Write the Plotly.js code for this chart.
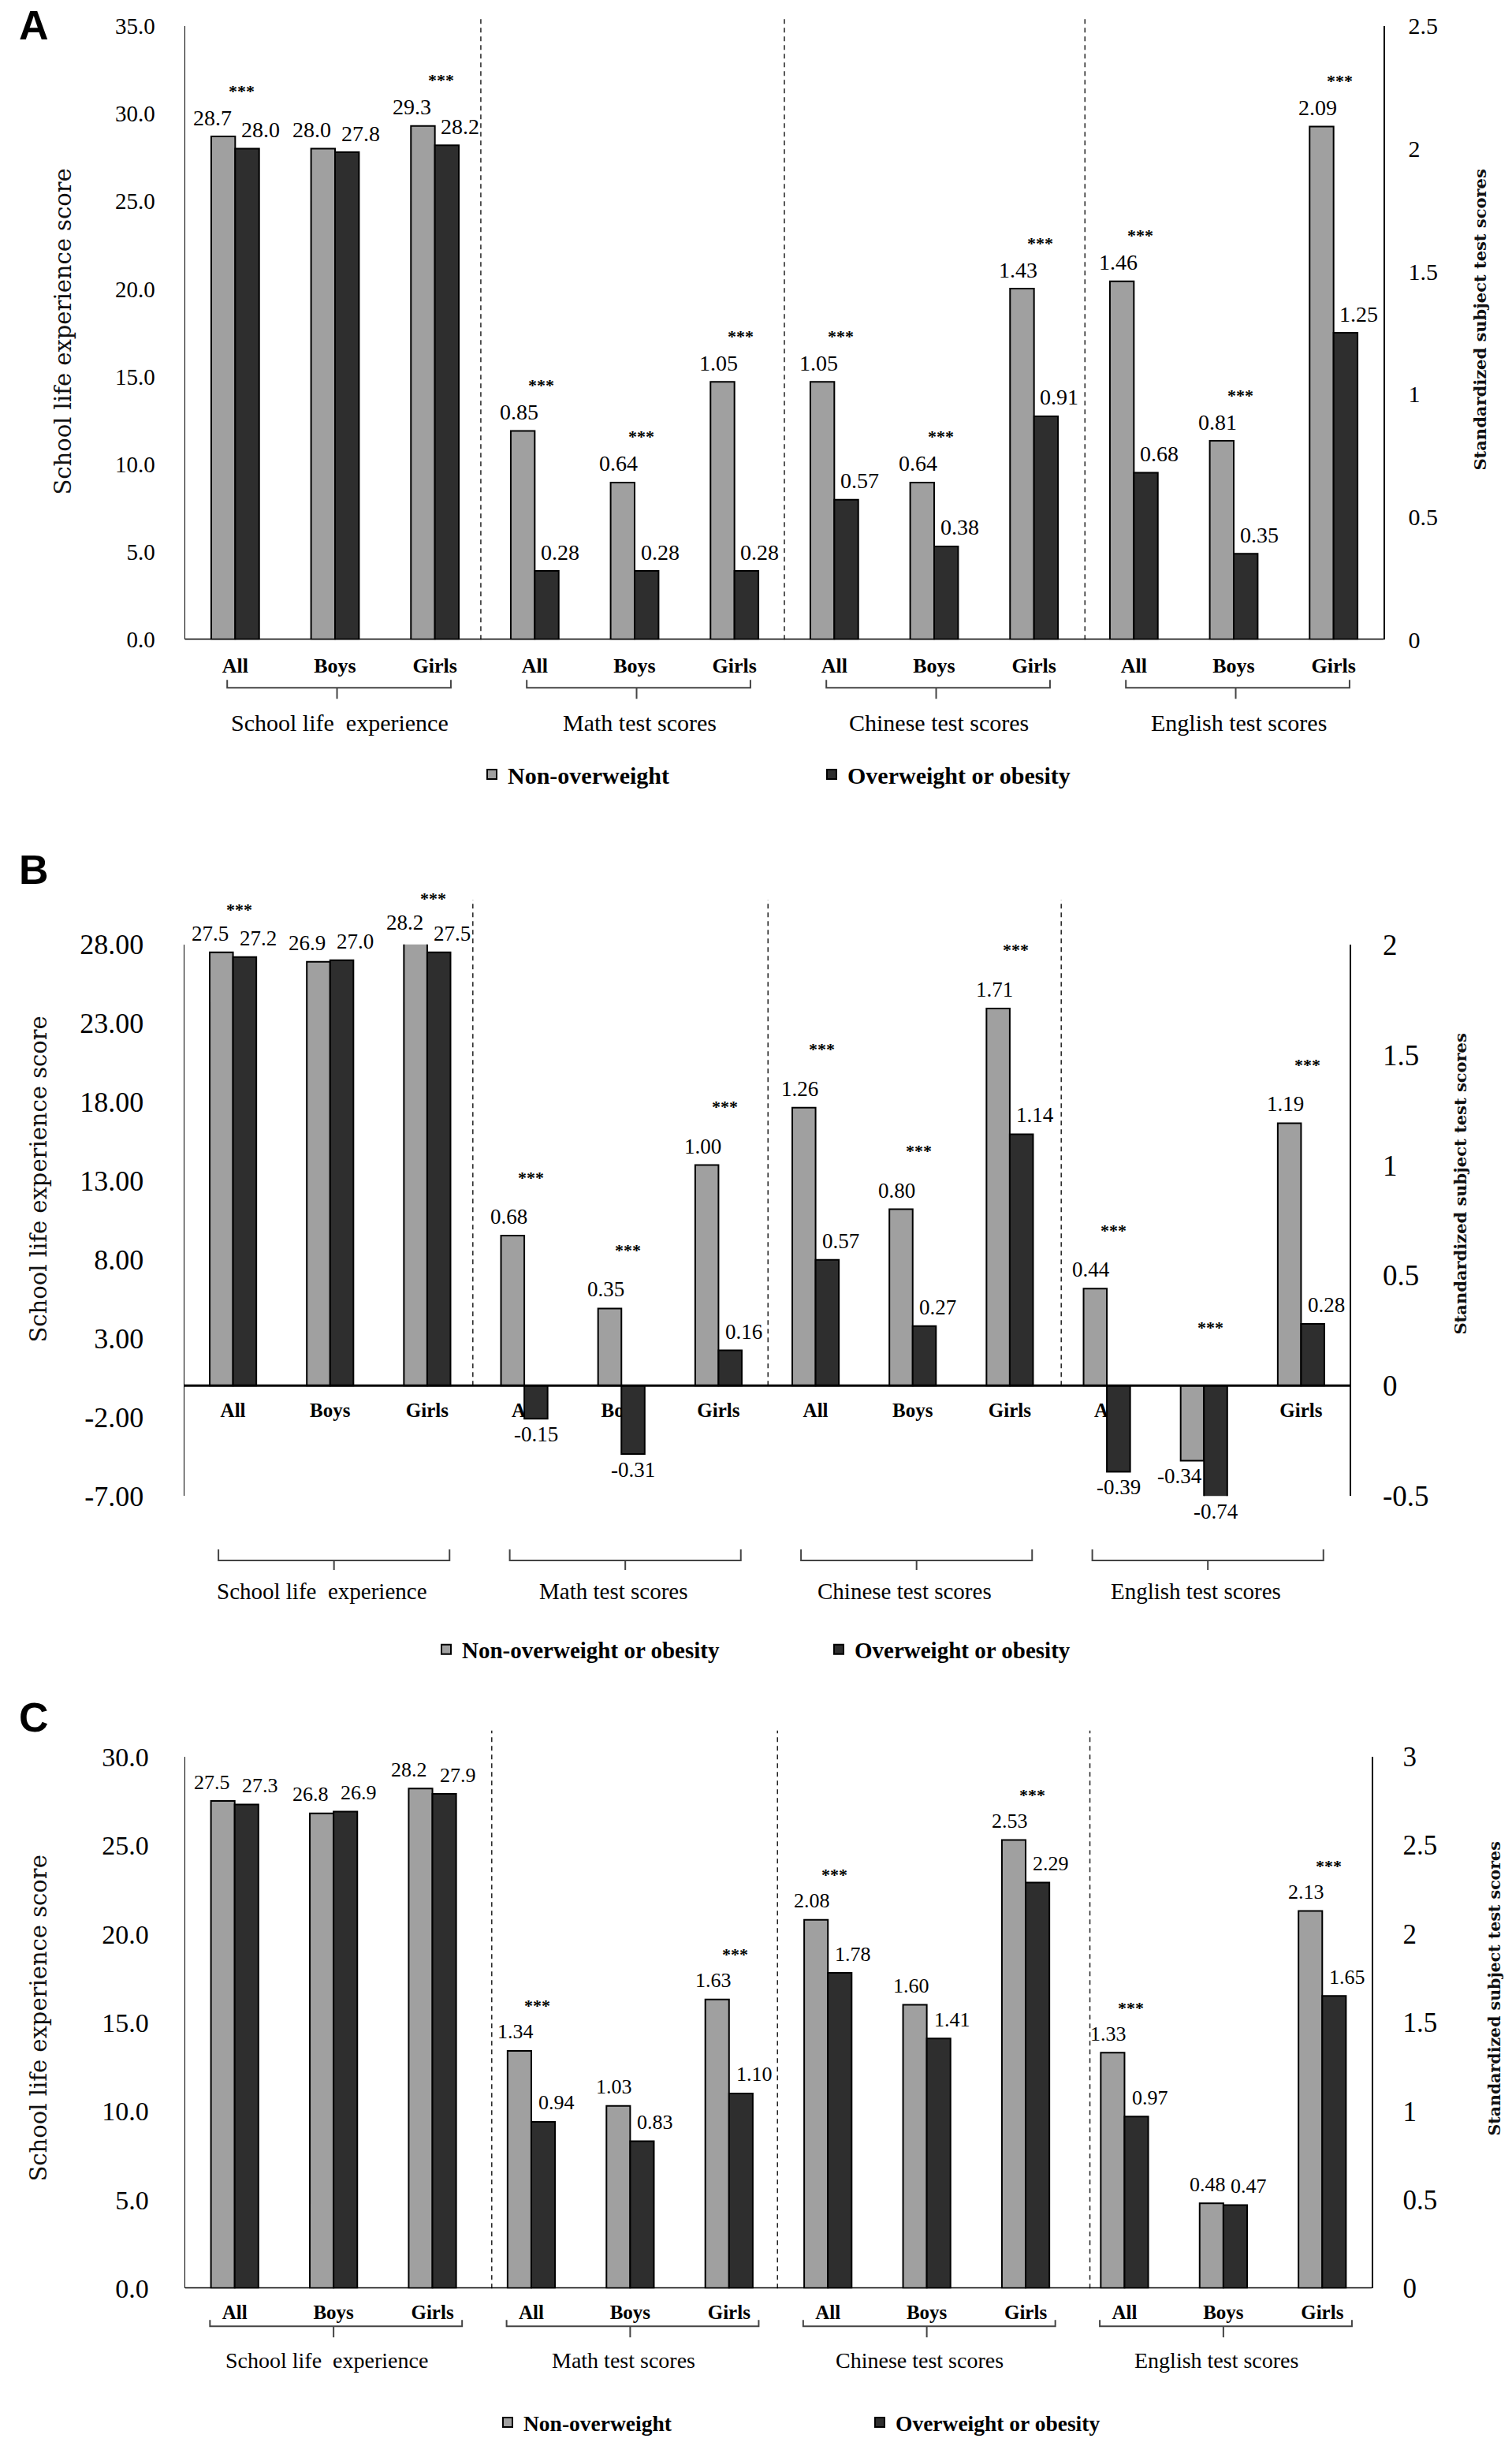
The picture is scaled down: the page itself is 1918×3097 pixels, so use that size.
<!DOCTYPE html>
<html><head><meta charset="utf-8">
<script src="https://cdn.plot.ly/plotly-3.0.1.min.js"></script>
<style>html,body{margin:0;padding:0;background:#fff}#chart{width:1918px;height:3097px}</style>
</head><body><div id="chart"></div>
<script>
// ---------------- data ----------------
const categories = ['All','Boys','Girls','All','Boys','Girls','All','Boys','Girls','All','Boys','Girls'];
const groupNames = ['School life\u00a0 experience','Math test scores','Chinese test scores','English test scores'];

// Panel A
const A_schoolNon = [28.7, 28.0, 29.3];
const A_schoolOw  = [28.0, 27.8, 28.2];
const A_testNon   = [0.85, 0.64, 1.05, 1.05, 0.64, 1.43, 1.46, 0.81, 2.09];
const A_testOw    = [0.28, 0.28, 0.28, 0.57, 0.38, 0.91, 0.68, 0.35, 1.25];
const A_sig       = [1,0,1, 1,1,1, 1,1,1, 1,1,1];
const A_legend    = ['Non-overweight','Overweight or obesity'];
const A_leftTicks = [0,5,10,15,20,25,30,35];
const A_leftText  = ['0.0','5.0','10.0','15.0','20.0','25.0','30.0','35.0'];
const A_rightTicks= [0,0.5,1,1.5,2,2.5];
const A_rightText = ['0','0.5','1','1.5','2','2.5'];

// Panel B
const B_schoolNon = [27.5, 26.9, 28.2];
const B_schoolOw  = [27.2, 27.0, 27.5];
const B_testNon   = [0.68, 0.35, 1.00, 1.26, 0.80, 1.71, 0.44, -0.34, 1.19];
const B_testOw    = [-0.15, -0.31, 0.16, 0.57, 0.27, 1.14, -0.39, -0.74, 0.28];
const B_sig       = [1,0,1, 1,1,1, 1,1,1, 1,1,1];
const B_legend    = ['Non-overweight or obesity','Overweight or obesity'];
const B_leftTicks = [-7,-2,3,8,13,18,23,28];
const B_leftText  = ['-7.00','-2.00','3.00','8.00','13.00','18.00','23.00','28.00'];
const B_rightTicks= [-0.5,0,0.5,1,1.5,2];
const B_rightText = ['-0.5','0','0.5','1','1.5','2'];

// Panel C
const C_schoolNon = [27.5, 26.8, 28.2];
const C_schoolOw  = [27.3, 26.9, 27.9];
const C_testNon   = [1.34, 1.03, 1.63, 2.08, 1.60, 2.53, 1.33, 0.48, 2.13];
const C_testOw    = [0.94, 0.83, 1.10, 1.78, 1.41, 2.29, 0.97, 0.47, 1.65];
const C_sig       = [0,0,0, 1,0,1, 1,0,1, 1,0,1];
const C_legend    = ['Non-overweight','Overweight or obesity'];
const C_leftTicks = [0,5,10,15,20,25,30];
const C_leftText  = ['0.0','5.0','10.0','15.0','20.0','25.0','30.0'];
const C_rightTicks= [0,0.5,1,1.5,2,2.5,3];
const C_rightText = ['0','0.5','1','1.5','2','2.5','3'];

// ---------------- styling / layout ----------------
const W = 1918, H = 3097;
const px = v => v / W, py = v => 1 - v / H;
const FONT = 'Liberation Serif, Times New Roman, serif';
const TFONT = 'DejaVu Serif, serif';
const GRAY = '#a0a0a0', DARK = '#2e2e2e';
const BAR_W = 0.24;

const panels = [
 { key:'A', sNon:A_schoolNon, sOw:A_schoolOw, tNon:A_testNon, tOw:A_testOw, sig:A_sig, names:A_legend,
   lT:A_leftTicks, lTx:A_leftText, rT:A_rightTicks, rTx:A_rightText, lR:[0,35], rR:[0,2.5],
   x0:235, x1:1755, yTop:33, yBot:812, zeroY:812,
   tickSize:29, rTickSize:30, lStand:31, rStand:24, catSize:26, catStand:15,
   dashes:[2.46,5.5,8.51], dashTopPx:21,
   brace:{yT:863,yH:873,yS:887,l:0.08,r:0.16,m:0.02}, groupY:917, groupShift:0.05, groupSize:30,
   legY:983, legX:618, legGap:431, legSize:30,
   letterY:32, lTitle:[80,421], rTitle:[1878,406], rTitleSize:21,
   valSize:28, lblOff:24, negOff:20, starOff:58, schoolStarOff:58 },
 { key:'B', sNon:B_schoolNon, sOw:B_schoolOw, tNon:B_testNon, tOw:B_testOw, sig:B_sig, names:B_legend,
   lT:B_leftTicks, lTx:B_leftText, rT:B_rightTicks, rTx:B_rightText, lR:[-7,28], rR:[-0.5,2],
   x0:234, x1:1712, yTop:1199, yBot:1899, zeroY:1759,
   tickSize:36, rTickSize:37, lStand:43, rStand:33, catSize:25, catStand:14,
   dashes:[2.47,5.51,8.53], dashTopPx:1142,
   brace:{yT:1967,yH:1981,yS:1993,l:0.15,r:0.23,m:0.04}, groupY:2020, groupShift:-0.08, groupSize:29,
   legY:2094, legX:560, legGap:498, legSize:29,
   letterY:1104, lTitle:[49,1497], rTitle:[1853,1503], rTitleSize:21,
   valSize:27, lblOff:24, negOff:20, starOff:74, schoolStarOff:54 },
 { key:'C', sNon:C_schoolNon, sOw:C_schoolOw, tNon:C_testNon, tOw:C_testOw, sig:C_sig, names:C_legend,
   lT:C_leftTicks, lTx:C_leftText, rT:C_rightTicks, rTx:C_rightText, lR:[0,30], rR:[0,3],
   x0:235, x1:1740, yTop:2230, yBot:2905, zeroY:2905,
   tickSize:34, rTickSize:35, lStand:38, rStand:31, catSize:25, catStand:13,
   dashes:[2.6,5.49,8.65], dashTopPx:2197,
   brace:{yT:2945,yH:2953,yS:2967,l:0.25,r:0.3,m:0}, groupY:2996, groupShift:-0.07, groupSize:28,
   legY:3075, legX:638, legGap:472, legSize:27.5,
   letterY:2180, lTitle:[49,2562], rTitle:[1896,2525], rTitleSize:20.5,
   valSize:26, lblOff:24, negOff:20, starOff:57, schoolStarOff:57 }
];

const data = [];
const layout = {
  width: W, height: H, margin:{l:0,r:0,t:0,b:0}, barmode:'overlay',
  paper_bgcolor:'#ffffff', plot_bgcolor:'rgba(0,0,0,0)', showlegend:true,
  font:{family:FONT, color:'#000'}, shapes:[], annotations:[]
};

const schoolX = [0,1,2];
const testX = [3,4,5,6,7,8,9,10,11];

panels.forEach((p, k) => {
  const xRef = k === 0 ? 'x' : 'x' + (k + 1);
  const xName = k === 0 ? 'xaxis' : 'xaxis' + (k + 1);
  const yLn = 2 * k + 1, yRn = 2 * k + 2;
  const yLRef = yLn === 1 ? 'y' : 'y' + yLn;
  const yLName = yLn === 1 ? 'yaxis' : 'yaxis' + yLn;
  const yRRef = 'y' + yRn, yRName = 'yaxis' + yRn;
  const legName = k === 0 ? 'legend' : 'legend' + (k + 1);

  const barBase = {type:'bar', xaxis:xRef, width:BAR_W, hoverinfo:'skip', legend:legName};
  data.push(Object.assign({}, barBase, {name:p.names[0], x:schoolX, y:p.sNon, yaxis:yLRef, offset:-BAR_W,
    marker:{color:GRAY, line:{color:'#000', width:2}}, legendgroup:p.key+'n', showlegend:true}));
  data.push(Object.assign({}, barBase, {name:p.names[1], x:schoolX, y:p.sOw, yaxis:yLRef, offset:0,
    marker:{color:DARK, line:{color:'#000', width:2}}, legendgroup:p.key+'o', showlegend:true}));
  data.push(Object.assign({}, barBase, {name:p.names[0], x:testX, y:p.tNon, yaxis:yRRef, offset:-BAR_W,
    marker:{color:GRAY, line:{color:'#000', width:2}}, legendgroup:p.key+'n', showlegend:false}));
  data.push(Object.assign({}, barBase, {name:p.names[1], x:testX, y:p.tOw, yaxis:yRRef, offset:0,
    marker:{color:DARK, line:{color:'#000', width:2}}, legendgroup:p.key+'o', showlegend:false}));

  layout[xName] = {
    domain:[px(p.x0), px(p.x1)], range:[-0.5, 11.5], anchor:'free', position:py(p.zeroY),
    tickvals:categories.map((c, i) => i), ticktext:categories,
    tickfont:{family:FONT, size:p.catSize, weight:700, color:'#000'},
    ticks:'', showline:false, showgrid:false, zeroline:false, layer:'below traces',
    ticklabelstandoff:p.catStand, fixedrange:true
  };
  layout[yLName] = {
    domain:[py(p.yBot), py(p.yTop)], range:p.lR, anchor:xRef,
    tickvals:p.lT, ticktext:p.lTx, tickfont:{family:FONT, size:p.tickSize, color:'#000'},
    ticks:'', showline:true, linecolor:'#000', linewidth:1.5, showgrid:false, zeroline:false,
    ticklabelstandoff:p.lStand, fixedrange:true
  };
  layout[yRName] = {
    domain:[py(p.yBot), py(p.yTop)], range:p.rR, anchor:xRef, overlaying:yLRef, side:'right',
    tickvals:p.rT, ticktext:p.rTx, tickfont:{family:FONT, size:p.rTickSize, color:'#000'},
    ticks:'', showline:true, linecolor:'#000', linewidth:1.5, showgrid:false, zeroline:false,
    ticklabelstandoff:p.rStand, fixedrange:true
  };
  layout[legName] = {
    x:px(p.legX - 14), y:py(p.legY), xanchor:'left', yanchor:'middle', orientation:'h',
    font:{family:FONT, size:p.legSize, weight:700, color:'#000'},
    entrywidth:p.legGap - 45, entrywidthmode:'pixels', bgcolor:'rgba(0,0,0,0)', borderwidth:0,
    itemclick:false, itemdoubleclick:false, traceorder:'normal'
  };

  // baseline
  layout.shapes.push({type:'line', xref:xRef, yref:yLRef, x0:-0.5, x1:11.5, y0:0, y1:0,
    line:{color:'#000', width:3}});
  // dashed separators (reach slightly above the plot top)
  p.dashes.forEach(s => layout.shapes.push({type:'line', xref:xRef, yref:'paper', x0:s, x1:s,
    y0:py(p.zeroY), y1:py(p.dashTopPx), line:{color:'#222', width:1.5, dash:'6px,5px'}, layer:'below'}));
  // braces + group names
  for (let g = 0; g < 4; g++) {
    const first = 3 * g, last = 3 * g + 2, mid = 3 * g + 1;
    const b = p.brace;
    const xa = first - b.l, xb = last + b.r, xm = mid + b.m;
    const yT = py(b.yT), yH = py(b.yH), yS = py(b.yS);
    layout.shapes.push({type:'path', xref:xRef, yref:'paper',
      path:`M ${xa},${yT} L ${xa},${yH} L ${xb},${yH} L ${xb},${yT} M ${xm},${yH} L ${xm},${yS}`,
      line:{color:'#444', width:2}});
    layout.annotations.push({xref:xRef, yref:'paper', x:mid + p.groupShift, y:py(p.groupY),
      text:groupNames[g], showarrow:false, xanchor:'center', yanchor:'middle',
      font:{family:FONT, size:p.groupSize, color:'#000'}});
  }
  // value labels and stars
  const pxPerL = (p.yBot - p.yTop) / (p.lR[1] - p.lR[0]);
  const pxPerR = (p.yBot - p.yTop) / (p.rR[1] - p.rR[0]);
  const allNon = p.sNon.concat(p.tNon), allOw = p.sOw.concat(p.tOw);
  allNon.forEach((g, i) => {
    const d = allOw[i];
    const isSchool = i < 3;
    const yref = isSchool ? yLRef : yRRef;
    const rng = isSchool ? p.lR : p.rR;
    const ppu = isSchool ? pxPerL : pxPerR;
    const fmt = v => isSchool ? v.toFixed(1) : v.toFixed(2);
    const clamp = v => Math.min(Math.max(v, rng[0]), rng[1]);
    [[g, -BAR_W / 2, 'n'], [d, BAR_W / 2, 'o']].forEach(([v, dx, kind]) => {
      const yv = clamp(v);
      const over = v > rng[1] ? (v - rng[1]) * ppu : 0;
      let xs;
      if (v >= 0) xs = kind === 'n' ? (isSchool ? -14 : -5) : 17;
      else xs = kind === 'n' ? -16 : 0;
      layout.annotations.push({xref:xRef, yref:yref, x:i + dx, y:yv, xshift:xs,
        yshift: v >= 0 ? p.lblOff + over : -p.negOff, text:fmt(v), showarrow:false,
        xanchor:'center', yanchor:'middle', font:{family:FONT, size:p.valSize, color:'#000'}});
    });
    if (p.sig[i]) {
      const top = Math.max(g, d, 0);
      const over = top > rng[1] ? (top - rng[1]) * ppu : 0;
      layout.annotations.push({xref:xRef, yref:yref, x:i, y:clamp(top), xshift:8,
        yshift: (isSchool ? p.schoolStarOff : p.starOff) + over, text:'***', showarrow:false,
        xanchor:'center', yanchor:'middle', font:{family:FONT, size:22, weight:700, color:'#000'}});
    }
  });
  // axis titles
  layout.annotations.push({xref:'paper', yref:'paper', x:px(p.lTitle[0]), y:py(p.lTitle[1]),
    text:'School life experience score', textangle:-90, showarrow:false, xanchor:'center', yanchor:'middle',
    font:{family:TFONT, size:29, color:'#111'}});
  layout.annotations.push({xref:'paper', yref:'paper', x:px(p.rTitle[0]), y:py(p.rTitle[1]),
    text:'Standardized subject test scores', textangle:-90, showarrow:false, xanchor:'center', yanchor:'middle',
    font:{family:TFONT, size:p.rTitleSize, weight:700, color:'#111'}});
  // panel letter
  layout.annotations.push({xref:'paper', yref:'paper', x:px(43), y:py(p.letterY), text:p.key,
    showarrow:false, xanchor:'center', yanchor:'middle',
    font:{family:'Liberation Sans, Arial, sans-serif', size:52, weight:700, color:'#000'}});
});

Plotly.newPlot('chart', data, layout, {displayModeBar:false, staticPlot:true});
</script>
</body></html>
